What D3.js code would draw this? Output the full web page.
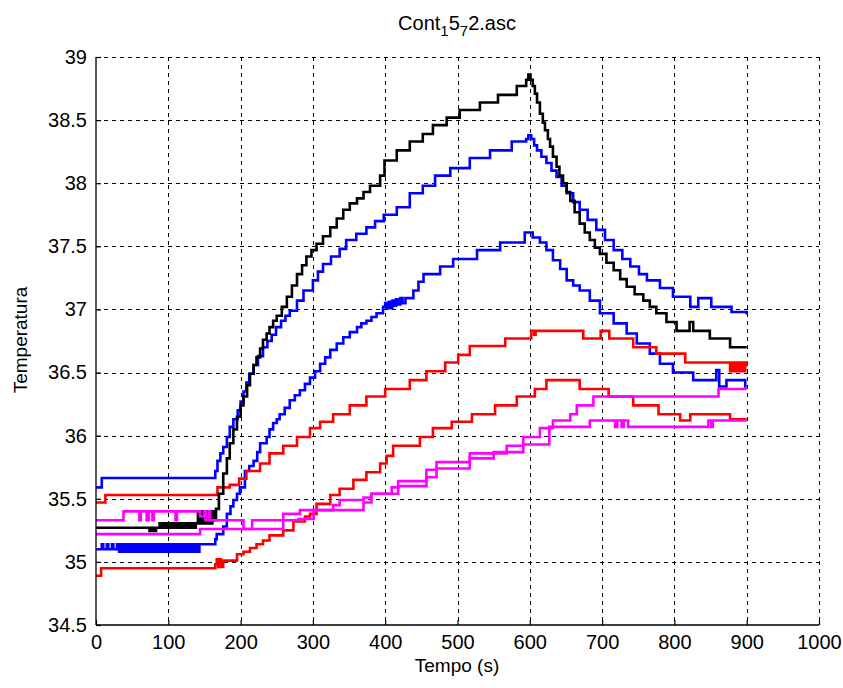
<!DOCTYPE html>
<html><head><meta charset="utf-8">
<script src="https://cdn.jsdelivr.net/npm/d3@7"></script>
<style>
body{margin:0;background:#fff;}
text{font-family:"Liberation Sans",Arial,Helvetica,sans-serif;fill:#000;}
</style></head>
<body>
<svg id="chart" width="843" height="688"></svg>
<script>
// ---- data (time s, temperature) ----
const xTicks = [0,100,200,300,400,500,600,700,800,900,1000];
const yTicks = [34.5,35,35.5,36,36.5,37,37.5,38,38.5,39];
const yTickLabels = ["34.5","35","35.5","36","36.5","37","37.5","38","38.5","39"];

const seriesBlack = [[0,35.27],[74,35.245],[77,35.27],[80,35.245],[83,35.27],
[88,35.305],[90,35.27],[93,35.305],[95,35.27],[98,35.305],[100,35.27],[103,35.305],[105,35.27],[108,35.305],[110,35.27],[113,35.305],[115,35.27],[118,35.305],[120,35.27],[123,35.305],[125,35.27],[128,35.305],[130,35.27],[133,35.305],[135,35.27],[138,35.305],
[141,35.40],[143,35.305],[146,35.40],[148,35.305],[152,35.40],[154,35.305],[157,35.40],[159,35.305],[161,35.40],[163,35.33],
[166,35.42],[170,35.54],[176,35.70],[181,35.82],[185,35.94],[190,36.05],[195,36.15],[200,36.24],[204,36.31],[209,36.40],[213,36.49],[218,36.56],[222,36.62],[227,36.69],[231,36.76],[236,36.81],[240,36.86],[245,36.91],[250,36.95],[257,37.02],[264,37.10],[271,37.19],[278,37.28],[285,37.35],[291,37.42],[298,37.47],[305,37.52],[314,37.58],[324,37.65],[333,37.72],[342,37.79],[351,37.84],[361,37.88],[370,37.93],[379,37.98],[393,38.06],[399,38.18],[416,38.26],[434,38.33],[452,38.39],[466,38.46],[485,38.52],[503,38.58],[531,38.64],[556,38.70],[582,38.77],[595,38.82],[598,38.86],[601,38.82],
[604,38.77],[607,38.71],[610,38.64],[614,38.55],[618,38.48],[621,38.42],[625,38.35],[628,38.29],[632,38.21],[637,38.13],[641,38.06],[646,38.0],[651,37.93],[656,37.86],[662,37.77],[669,37.68],[676,37.61],[683,37.55],[690,37.49],[697,37.44],[706,37.37],[716,37.31],[725,37.24],[734,37.18],[745,37.12],[757,37.07],[766,37.02],[775,36.97],[789,36.90],[803,36.83],[821,36.90],[826,36.83],[849,36.77],[877,36.70],[900,36.70]];

const seriesBlueHigh = [[0,35.59],[8,35.665],[165,35.72],[168,35.80],[172,35.86],[176,35.91],[181,35.99],[185,36.07],[190,36.13],[196,36.2],[200,36.27],[204,36.35],[208,36.42],[212,36.49],[218,36.56],[224,36.63],[231,36.70],[237,36.75],[243,36.80],[249,36.86],[256,36.91],[262,36.95],[268,36.99],[278,37.07],[287,37.15],[300,37.23],[307,37.30],[314,37.36],[325,37.42],[337,37.48],[346,37.55],[360,37.60],[374,37.65],[386,37.70],[398,37.75],[416,37.81],[434,37.92],[452,37.98],[469,38.06],[490,38.12],[517,38.20],[545,38.26],[575,38.33],[595,38.35],[598,38.38],[602,38.35],[606,38.30],[610,38.26],[616,38.21],[623,38.16],[630,38.10],[637,38.05],[644,37.98],[651,37.92],[660,37.85],[669,37.79],[680,37.71],[692,37.63],[704,37.55],[716,37.47],[728,37.40],[739,37.34],[751,37.28],[762,37.23],[780,37.17],[798,37.10],[822,37.02],[833,37.09],[851,37.02],[879,36.98],[900,36.96]];

const seriesBlueLow = [[0,35.10],[8,35.14],[10,35.10],[15,35.14],[17,35.10],[22,35.14],[24,35.10],
[29,35.14],[32,35.08],[35,35.14],[38,35.08],[41,35.14],[44,35.08],[47,35.14],[50,35.08],[53,35.14],[56,35.08],[59,35.14],[62,35.08],[65,35.14],[68,35.08],[71,35.14],[74,35.08],[77,35.14],[80,35.08],[83,35.14],[86,35.08],[89,35.14],[92,35.08],[95,35.14],[98,35.08],[101,35.14],[104,35.08],[107,35.14],[110,35.08],[113,35.14],[116,35.08],[119,35.14],[122,35.08],[125,35.14],[128,35.08],[131,35.14],[134,35.08],[137,35.14],[140,35.08],[143,35.14],
[146,35.14],[165,35.18],[167,35.22],[176,35.28],[181,35.38],[186,35.44],[190,35.49],[195,35.54],[199,35.59],[206,35.72],[212,35.76],[218,35.80],[223,35.87],[227,35.94],[236,35.99],[240,36.05],[245,36.10],[250,36.13],[254,36.17],[261,36.22],[268,36.28],[275,36.32],[282,36.36],[289,36.41],[296,36.46],[303,36.51],[310,36.57],[317,36.62],[324,36.68],[333,36.73],[342,36.78],[351,36.82],[361,36.86],[367,36.89],[374,36.91],[381,36.94],[388,36.97],[397,37.02],[400,37.05],[402,37.01],[405,37.06],[407,37.01],[410,37.07],[412,37.03],[415,37.08],[418,37.04],[421,37.09],[424,37.05],[428,37.09],[439,37.15],[446,37.22],[453,37.28],[476,37.34],[494,37.40],[527,37.47],[559,37.53],[593,37.61],[604,37.57],[614,37.53],[623,37.47],[632,37.39],[642,37.32],[651,37.23],[660,37.19],[669,37.15],[683,37.07],[697,36.97],[716,36.89],[734,36.81],[748,36.73],[766,36.65],[780,36.57],[798,36.50],[826,36.44],[858,36.52],[862,36.39],[872,36.44],[898,36.39],[900,36.39]];

const seriesRedHigh = [[0,35.47],[13,35.53],[168,35.59],[185,35.61],[198,35.66],[208,35.72],[227,35.78],[240,35.86],[259,35.92],[278,35.99],[296,36.06],[310,36.11],[328,36.17],[351,36.24],[374,36.31],[400,36.37],[434,36.44],[457,36.51],[483,36.58],[501,36.64],[517,36.71],[566,36.77],[600,36.77],[602,36.83],[606,36.80],[608,36.83],[674,36.77],[698,36.83],[710,36.77],[743,36.70],[775,36.65],[815,36.58],[877,36.51],[880,36.58],[883,36.51],[886,36.58],[889,36.51],[892,36.58],[895,36.51],[898,36.58],[900,36.55]];

const seriesRedLow = [[0,34.89],[7,34.95],[165,34.98],[167,35.02],[169,34.96],[171,35.02],[173,34.96],[176,35.01],[195,35.06],[204,35.08],[213,35.11],[222,35.14],[231,35.17],[240,35.21],[259,35.25],[273,35.32],[289,35.36],[296,35.38],[305,35.46],[324,35.53],[337,35.58],[356,35.65],[374,35.71],[393,35.78],[402,35.84],[411,35.92],[448,35.99],[466,36.06],[492,36.11],[520,36.17],[552,36.24],[582,36.31],[607,36.37],[623,36.44],[669,36.37],[709,36.31],[743,36.24],[778,36.17],[808,36.12],[822,36.17],[877,36.13],[900,36.13]];

const seriesMagentaA = [[0,35.33],[38,35.40],[60,35.33],[62,35.40],[70,35.33],[73,35.40],[78,35.33],[80,35.40],[110,35.33],[112,35.40],[144,35.36],[150,35.40],[152,35.33],[156,35.40],[158,35.33],[162,35.33],[204,35.26],[259,35.38],[282,35.41],[328,35.45],[337,35.49],[370,35.51],[381,35.54],[409,35.59],[418,35.64],[457,35.73],[471,35.79],[517,35.86],[568,35.92],[591,35.99],[614,36.06],[632,36.12],[656,36.17],[665,36.24],[688,36.31],[861,36.37],[900,36.37]];

const seriesMagentaB = [[0,35.22],[144,35.26],[216,35.33],[259,35.33],[280,35.34],[301,35.41],[370,35.47],[381,35.54],[418,35.60],[457,35.67],[471,35.74],[517,35.82],[550,35.87],[591,35.93],[627,36.07],[683,36.12],[718,36.07],[721,36.12],[727,36.07],[730,36.12],[736,36.07],[847,36.12],[851,36.07],[853,36.12],[900,36.12]];

const seriesList = [
  {data: seriesBlueHigh, color: "#0000ff"},
  {data: seriesBlueLow, color: "#0000ff"},
  {data: seriesRedHigh, color: "#ff0000"},
  {data: seriesRedLow, color: "#ff0000"},
  {data: seriesBlack, color: "#000000"},
  {data: seriesMagentaA, color: "#ff00ff"},
  {data: seriesMagentaB, color: "#ff00ff"}
];

// ---- layout ----
const L = 96, T = 57, W = 723, H = 568;
const svg = d3.select("#chart");
const x = d3.scaleLinear().domain([0,1000]).range([L, L+W]);
const y = d3.scaleLinear().domain([34.5,39]).range([T+H, T]);

// grid
const grid = svg.append("g").attr("stroke","#000").attr("stroke-width",1).attr("stroke-dasharray","4,4").attr("shape-rendering","crispEdges");
xTicks.filter(d=>d>0).forEach(d=>{
  grid.append("line").attr("x1",Math.round(x(d))+0.5).attr("x2",Math.round(x(d))+0.5).attr("y1",T).attr("y2",T+H);
});
yTicks.filter(d=>d>34.5).forEach(d=>{
  grid.append("line").attr("x1",L).attr("x2",L+W).attr("y1",Math.round(y(d))+0.5).attr("y2",Math.round(y(d))+0.5);
});

// series
const line = d3.line().x(d=>x(d[0])).y(d=>y(d[1])).curve(d3.curveStepAfter);
seriesList.forEach(s=>{
  svg.append("path").datum(s.data).attr("d",line)
    .attr("fill","none").attr("stroke",s.color).attr("stroke-width",2.6)
    .attr("stroke-linejoin","miter");
});

// axes
const xAxis = d3.axisBottom(x).tickValues(xTicks).tickSize(-5).tickPadding(10).tickFormat(d3.format("d"));
const yAxis = d3.axisLeft(y).tickValues(yTicks).tickSize(-5).tickPadding(9).tickFormat((d,i)=>yTickLabels[i]);
const gx = svg.append("g").attr("transform",`translate(0,${T+H})`).call(xAxis);
const gy = svg.append("g").attr("transform",`translate(${L},0)`).call(yAxis);
[gx,gy].forEach(g=>{
  g.select(".domain").attr("stroke","#000").attr("stroke-width",1.3).attr("d", g===gx ? `M${L},0H${L+W}` : `M0,${T}V${T+H}`);
  g.selectAll(".tick line").attr("stroke","#000").attr("stroke-width",1.2);
  g.selectAll(".tick text").attr("font-size",20).attr("fill","#000").style("font-family","Liberation Sans, Arial, sans-serif");
});

// title & labels
const title = svg.append("text").attr("x",457).attr("y",30).attr("text-anchor","middle").attr("font-size",20);
title.append("tspan").text("Cont");
title.append("tspan").attr("dy",6).attr("font-size",15).text("1");
title.append("tspan").attr("dy",-6).text("5");
title.append("tspan").attr("dy",6).attr("font-size",15).text("7");
title.append("tspan").attr("dy",-6).text("2.asc");

svg.append("text").attr("x",457).attr("y",672).attr("text-anchor","middle").attr("font-size",19).text("Tempo (s)");
svg.append("text").attr("transform","translate(27,340) rotate(-90)").attr("text-anchor","middle").attr("font-size",19).text("Temperatura");
</script>
</body></html>
